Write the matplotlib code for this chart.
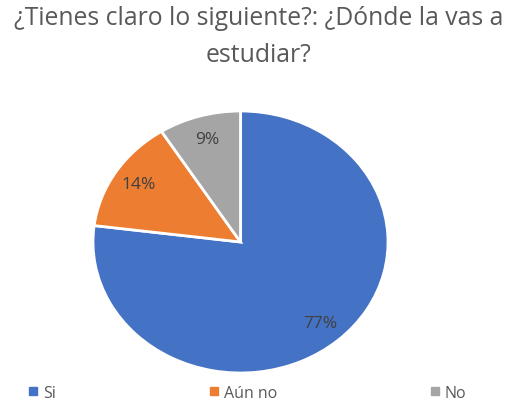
import matplotlib.pyplot as plt
from matplotlib.lines import Line2D

plt.rcParams['font.family'] = ['Open Sans', 'DejaVu Sans']

# Survey answers
labels = ["Si", "Aún no", "No"]
shares = [77, 14, 9]
colors = ["#4472C4", "#ED7D31", "#A5A5A5"]
title = "¿Tienes claro lo siguiente?: ¿Dónde la vas a\nestudiar?"

fig = plt.figure(figsize=(5.17, 4.02), dpi=100)
fig.text(0.5, 0.985, title, ha="center", va="top", fontsize=17.8,
         color="#595959", linespacing=1.62)

# the original pie is slightly stretched sideways, so the box is not square
ax = fig.add_axes([93 / 517, 1 - 374 / 402, 295 / 517, 262 / 402])
wedges, texts, autotexts = ax.pie(
    shares, colors=colors, startangle=90, counterclock=False,
    autopct="%1.0f%%", pctdistance=0.82, radius=1,
    wedgeprops=dict(edgecolor="white", linewidth=2),
    textprops=dict(color="#404040", fontsize=12.5),
)
ax.set_xlim(-1, 1)
ax.set_ylim(-1, 1)
ax.set_aspect("auto")

handles = [Line2D([], [], marker="s", linestyle="none", markersize=6,
                  color=c) for c in colors]
fig.legend(handles, labels, loc="center left",
           bbox_to_anchor=(29 / 517, 1 - 394 / 402),
           ncol=3, frameon=False, fontsize=11.5, labelcolor="#595959",
           borderpad=0, borderaxespad=0,
           handlelength=0.5, handletextpad=0.4, columnspacing=9.6)

fig.savefig("out.png", dpi=100)
